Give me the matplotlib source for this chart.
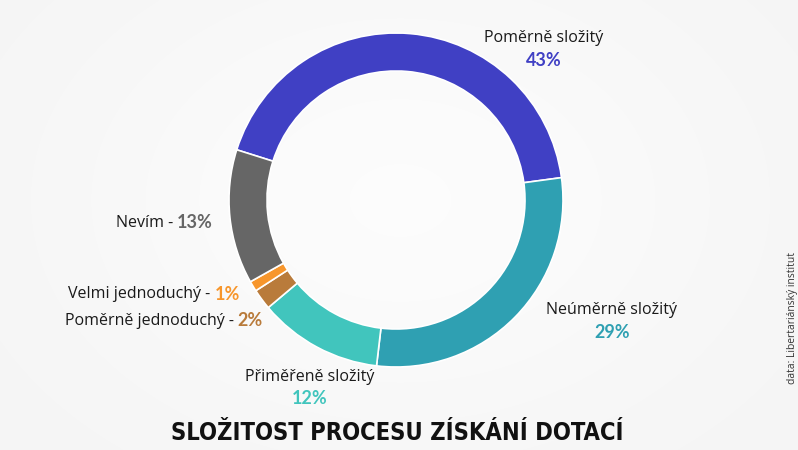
import matplotlib
matplotlib.use("Agg")
import matplotlib.pyplot as plt
import numpy as np

categories = ["Poměrně složitý", "Neúměrně složitý", "Přiměřeně složitý",
              "Poměrně jednoduchý", "Velmi jednoduchý", "Nevím"]
values = [43, 29, 12, 2, 1, 13]
colors = ["#4040c4", "#2fa0b2", "#41c5bd", "#b97b3b", "#f7962c", "#666666"]
title = "SLOŽITOST PROCESU ZÍSKÁNÍ DOTACÍ"
source = "data: Libertariánský institut"

W, H = 798, 450
fig = plt.figure(figsize=(W / 100, H / 100), dpi=100)
fig.patch.set_facecolor("#f4f4f4")
ax = fig.add_axes([0, 0, 1, 1])
ax.set_facecolor("#f4f4f4")

# subtle background gradient
yy, xx = np.mgrid[0:H, 0:W]
bg = 0.955 + 0.03 * np.exp(-(((xx - 400) / 350.0) ** 2 + ((yy - 200) / 250.0) ** 2))
ax.imshow(bg, cmap="gray", vmin=0, vmax=1, extent=(0, W, 0, H), zorder=0, aspect="auto")

cx, cy, R = 396, H - 200, 167
wedges, _ = ax.pie(values, colors=colors, startangle=162.5, counterclock=False,
                   center=(cx, cy), radius=R,
                   wedgeprops=dict(width=38, edgecolor="white", linewidth=1.2))
for w in wedges:
    w.set_zorder(2)

ax.set_xlim(0, W)
ax.set_ylim(0, H)
ax.set_aspect("equal")
ax.axis("off")

lab_font = dict(family=["Open Sans", "DejaVu Sans"], fontsize=11.5, color="#1a1a1a")
pct_font = dict(family=["Lato", "DejaVu Sans"], fontsize=13, fontweight="bold")

def two_line(x, y, name, pct, color):
    ax.text(x, H - y, name, ha="center", va="center", **lab_font, zorder=3)
    ax.text(x, H - y - 22, f"{pct}%", ha="center", va="center", color=color, **pct_font, zorder=3)

two_line(544, 38, categories[0], values[0], colors[0])
two_line(612, 310, categories[1], values[1], colors[1])
two_line(310, 377, categories[2], values[2], colors[2])

fig.canvas.draw()
renderer = fig.canvas.get_renderer()

def one_line(xr, y, name, pct, color):
    t = ax.text(xr, H - y, f"{pct}%", ha="right", va="center", color=color, **pct_font, zorder=3)
    bb = t.get_window_extent(renderer=renderer)
    ax.text(bb.x0, H - y, f"{name} - ", ha="right", va="center", **lab_font, zorder=3)

one_line(213, 223, categories[5], values[5], "#666666")
one_line(240, 294, categories[4], values[4], colors[4])
one_line(263, 321, categories[3], values[3], colors[3])

ax.text(397, H - 433, title, ha="center", va="center", fontsize=17, fontweight="bold",
        family=["DejaVu Sans"], fontstretch="condensed", color="#111111", zorder=3)
ax.text(793, H - 318, source, ha="center", va="center", rotation=90, fontsize=7.4,
        family=["Open Sans", "DejaVu Sans"], color="#333333", zorder=3)

fig.savefig("out.png", dpi=100, facecolor=fig.get_facecolor())
